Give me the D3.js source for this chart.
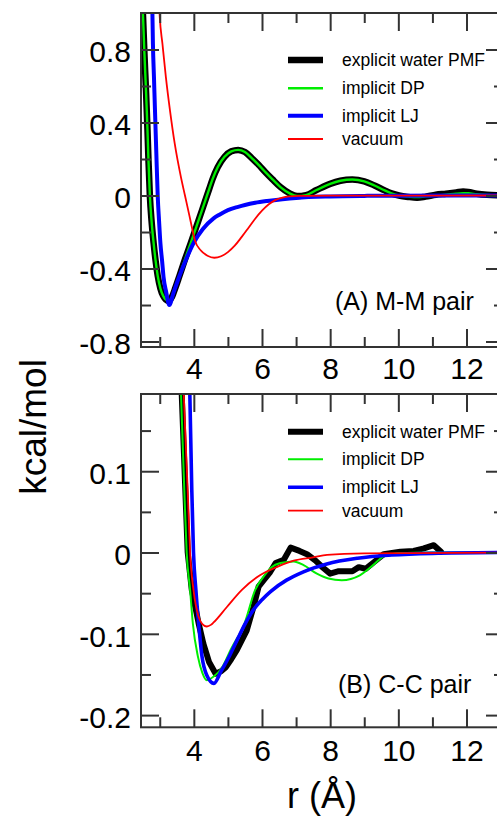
<!DOCTYPE html>
<html>
<head>
<meta charset="utf-8">
<script src="https://cdn.jsdelivr.net/npm/d3@7"></script>
<style>
  body { margin: 0; background: #fff; }
  svg { display: block; }
  text { font-family: "Liberation Sans", Arial, sans-serif; fill: #000; }
</style>
</head>
<body>
<svg id="chart" width="497" height="816"></svg>
<script>
// Pair potentials of mean force, r in Å, energies in kcal/mol
const seriesNames = ["explicit water PMF", "implicit DP", "implicit LJ", "vacuum"];
const rMajorTicks = [4, 6, 8, 10, 12];
const rMinorTicks = [3, 5, 7, 9, 11];
const mmMajorTicks = [0.8, 0.4, 0, -0.4, -0.8];
const mmMinorTicks = [0.6, 0.2, -0.2, -0.6];
const ccMajorTicks = [0.1, 0, -0.1, -0.2];
const ccMinorTicks = [0.15, 0.05, -0.05, -0.15];

// (A) M-M pair
const mmExplicit = [[2.47,1.12],[2.51,0.98],[2.55,0.78],[2.60,0.56],[2.64,0.36],[2.67,0.19],[2.71,0.0],[2.76,-0.14],[2.82,-0.26],[2.88,-0.36],[2.94,-0.44],[3.02,-0.51],[3.10,-0.55],[3.18,-0.57],[3.27,-0.578],[3.36,-0.555],[3.46,-0.505],[3.57,-0.445],[3.74,-0.35],[3.91,-0.26],[4.08,-0.168],[4.25,-0.075],[4.35,-0.02],[4.45,0.035],[4.55,0.09],[4.70,0.155],[4.90,0.212],[5.10,0.242],[5.30,0.25],[5.50,0.238],[5.70,0.205],[5.90,0.168],[6.10,0.128],[6.30,0.09],[6.55,0.045],[6.80,0.013],[7.03,-0.003],[7.29,0.002],[7.60,0.03],[8.00,0.064],[8.30,0.081],[8.65,0.088],[9.00,0.078],[9.30,0.055],[9.60,0.028],[9.80,0.012],[10.02,0.0],[10.30,-0.008],[10.55,-0.012],[10.80,-0.006],[11.10,0.004],[11.40,0.01],[11.70,0.017],[11.90,0.022],[12.05,0.02],[12.30,0.01],[12.60,0.004],[13.10,0.001]];
const mmDP = [[2.47,1.12],[2.51,0.98],[2.55,0.78],[2.60,0.56],[2.64,0.36],[2.67,0.19],[2.71,0.0],[2.76,-0.14],[2.82,-0.26],[2.88,-0.36],[2.94,-0.44],[3.02,-0.51],[3.10,-0.55],[3.18,-0.57],[3.27,-0.578],[3.36,-0.555],[3.46,-0.505],[3.57,-0.445],[3.74,-0.35],[3.91,-0.26],[4.08,-0.168],[4.25,-0.075],[4.35,-0.02],[4.45,0.035],[4.55,0.09],[4.70,0.155],[4.90,0.212],[5.10,0.242],[5.30,0.25],[5.50,0.238],[5.70,0.205],[5.90,0.168],[6.10,0.128],[6.30,0.09],[6.55,0.045],[6.80,0.013],[7.03,-0.003],[7.29,0.002],[7.60,0.03],[8.00,0.064],[8.30,0.081],[8.65,0.088],[9.00,0.078],[9.30,0.055],[9.60,0.028],[9.80,0.012],[10.02,0.0],[10.30,-0.006],[10.55,-0.009],[10.80,-0.005],[11.10,0.0],[11.40,0.004],[11.70,0.01],[11.90,0.012],[12.05,0.012],[12.30,0.007],[12.60,0.003],[13.10,0.0]];
const mmLJ = [[2.78,1.05],[2.80,0.83],[2.83,0.65],[2.86,0.467],[2.90,0.23],[2.94,0.0],[2.98,-0.14],[3.02,-0.263],[3.07,-0.36],[3.11,-0.445],[3.19,-0.53],[3.28,-0.60],[3.40,-0.535],[3.57,-0.445],[3.75,-0.36],[4.01,-0.255],[4.26,-0.185],[4.58,-0.125],[4.75,-0.105],[5.00,-0.08],[5.30,-0.062],[5.50,-0.052],[5.80,-0.04],[6.15,-0.03],[6.60,-0.02],[7.00,-0.013],[8.00,-0.005],[9.00,-0.002],[10.00,-0.001],[13.10,0.0]];
const mmVacuum = [[2.97,1.1],[3.00,0.98],[3.08,0.83],[3.18,0.649],[3.30,0.467],[3.44,0.284],[3.62,0.102],[3.74,0.0],[3.87,-0.11],[3.95,-0.18],[4.03,-0.245],[4.20,-0.30],[4.40,-0.33],[4.60,-0.341],[4.80,-0.333],[5.00,-0.31],[5.20,-0.275],[5.40,-0.228],[5.60,-0.178],[5.80,-0.127],[6.00,-0.083],[6.20,-0.048],[6.40,-0.024],[6.60,-0.011],[6.80,-0.005],[7.10,-0.002],[8.00,-0.001],[13.10,0.0]];

// (B) C-C pair
const ccExplicit = [[3.60,0.245],[3.64,0.20],[3.75,0.077],[3.82,0.0],[3.94,-0.046],[4.14,-0.087],[4.28,-0.112],[4.45,-0.135],[4.64,-0.149],[4.80,-0.146],[4.94,-0.141],[5.10,-0.131],[5.26,-0.12],[5.55,-0.096],[5.75,-0.067],[5.90,-0.042],[6.05,-0.034],[6.24,-0.024],[6.40,-0.013],[6.64,-0.009],[6.84,0.006],[7.10,0.002],[7.32,-0.002],[7.57,-0.010],[7.80,-0.019],[8.00,-0.026],[8.25,-0.023],[8.65,-0.023],[8.84,-0.018],[9.04,-0.020],[9.28,-0.012],[9.57,-0.002],[10.06,0.001],[10.45,0.002],[10.75,0.005],[11.04,0.009],[11.25,0.001]];
const ccDP = [[3.58,0.245],[3.62,0.20],[3.72,0.077],[3.79,0.0],[3.89,-0.046],[3.97,-0.087],[4.12,-0.128],[4.25,-0.148],[4.38,-0.157],[4.60,-0.152],[4.82,-0.142],[5.10,-0.118],[5.49,-0.087],[5.80,-0.046],[6.04,-0.030],[6.28,-0.018],[6.54,-0.013],[6.93,-0.011],[7.22,-0.0156],[7.61,-0.026],[7.95,-0.032],[8.34,-0.034],[8.87,-0.028],[9.26,-0.0155],[9.56,-0.005],[10.00,-0.001],[11.00,0.0],[13.10,0.0]];
const ccLJ = [[3.85,0.25],[3.88,0.20],[3.94,0.077],[3.99,0.0],[4.06,-0.046],[4.14,-0.087],[4.24,-0.128],[4.38,-0.151],[4.59,-0.161],[4.80,-0.146],[5.06,-0.126],[5.30,-0.105],[5.50,-0.088],[5.74,-0.071],[6.00,-0.058],[6.25,-0.048],[6.72,-0.034],[7.20,-0.024],[7.90,-0.014],[8.80,-0.007],[9.80,-0.003],[11.00,-0.001],[13.10,0.0]];
const ccVacuum = [[3.66,0.25],[3.70,0.20],[3.82,0.077],[3.89,0.0],[3.99,-0.046],[4.14,-0.079],[4.25,-0.088],[4.38,-0.091],[4.50,-0.089],[4.58,-0.086],[4.97,-0.067],[5.41,-0.046],[5.94,-0.028],[6.48,-0.017],[6.93,-0.010],[7.50,-0.006],[7.91,-0.003],[9.00,-0.001],[13.10,0.0]];

const svg = d3.select("#chart");
const frameLeft = 141, frameRight = 504;
const x = d3.scaleLinear().domain([2.45, 13.1]).range([frameLeft, frameRight]);

const colors = ["#000000", "#00ee00", "#0000ff", "#ff0000"];

const panels = [
  {
    id: "mm", top: 13, bottom: 347, domain: [-0.83, 1.0],
    major: mmMajorTicks, minor: mmMinorTicks,
    series: [mmExplicit, mmDP, mmLJ, mmVacuum],
    curves: [d3.curveMonotoneX, d3.curveMonotoneX, d3.curveMonotoneX, d3.curveMonotoneX],
    legendRows: [60, 88.3, 115.7, 139],
    widths: [6.5, 2.4, 4, 1.8],
    label: "(A) M-M pair", labelX: 335, labelY: 310,
    rLabelY: 379
  },
  {
    id: "cc", top: 394, bottom: 727.3, domain: [-0.215, 0.195],
    major: ccMajorTicks, minor: ccMinorTicks,
    series: [ccExplicit, ccDP, ccLJ, ccVacuum],
    curves: [d3.curveLinear, d3.curveMonotoneX, d3.curveMonotoneX, d3.curveMonotoneX],
    legendRows: [431.7, 459.3, 487.3, 510.7],
    widths: [6, 2, 3.6, 1.8],
    label: "(B) C-C pair", labelX: 338, labelY: 693,
    rLabelY: 761.5
  }
];

const fmt = d => String(d);

panels.forEach(p => {
  const y = d3.scaleLinear().domain(p.domain).range([p.bottom, p.top]);
  const g = svg.append("g");

  // clip region for the curves
  const clipId = "clip-" + p.id;
  svg.append("clipPath").attr("id", clipId)
    .append("rect").attr("x", frameLeft).attr("y", p.top)
    .attr("width", frameRight - frameLeft).attr("height", p.bottom - p.top);

  const lines = g.append("g").attr("clip-path", `url(#${clipId})`);
  p.series.forEach((data, i) => {
    const line = d3.line().x(d => x(d[0])).y(d => y(d[1])).curve(p.curves[i]);
    lines.append("path").datum(data)
      .attr("fill", "none")
      .attr("stroke", colors[i])
      .attr("stroke-width", p.widths[i])
      .attr("stroke-linejoin", "round")
      .attr("stroke-linecap", "round")
      .attr("d", line);
  });

  // axes: ticks point inward on all four sides
  const axisStyle = sel => {
    sel.select(".domain").remove();
    sel.selectAll(".tick line").attr("stroke", "#333").attr("stroke-width", 2);
    sel.selectAll("text").style("font-size", "30px").attr("fill", "#000");
  };

  g.append("g").attr("transform", `translate(0,${p.bottom})`)
    .call(d3.axisBottom(x).tickValues(rMajorTicks).tickSize(-18).tickPadding(12).tickFormat(fmt))
    .call(axisStyle)
    .call(s => s.selectAll("text").attr("dy", null).attr("y", p.rLabelY - p.bottom));
  g.append("g").attr("transform", `translate(0,${p.bottom})`)
    .call(d3.axisBottom(x).tickValues(rMinorTicks).tickSize(-10).tickFormat(""))
    .call(axisStyle);
  g.append("g").attr("transform", `translate(0,${p.top})`)
    .call(d3.axisTop(x).tickValues(rMajorTicks).tickSize(-18).tickFormat(""))
    .call(axisStyle);
  g.append("g").attr("transform", `translate(0,${p.top})`)
    .call(d3.axisTop(x).tickValues(rMinorTicks).tickSize(-10).tickFormat(""))
    .call(axisStyle);

  g.append("g").attr("transform", `translate(${frameLeft},0)`)
    .call(d3.axisLeft(y).tickValues(p.major).tickSize(-18).tickPadding(10).tickFormat(fmt))
    .call(axisStyle)
    .call(s => s.selectAll("text").attr("dy", "0.41em"));
  g.append("g").attr("transform", `translate(${frameLeft},0)`)
    .call(d3.axisLeft(y).tickValues(p.minor).tickSize(-10).tickFormat(""))
    .call(axisStyle);
  g.append("g").attr("transform", `translate(${frameRight},0)`)
    .call(d3.axisRight(y).tickValues(p.major).tickSize(-18).tickFormat(""))
    .call(axisStyle);
  g.append("g").attr("transform", `translate(${frameRight},0)`)
    .call(d3.axisRight(y).tickValues(p.minor).tickSize(-10).tickFormat(""))
    .call(axisStyle);

  // frame
  g.append("rect")
    .attr("x", frameLeft).attr("y", p.top)
    .attr("width", frameRight - frameLeft).attr("height", p.bottom - p.top)
    .attr("fill", "none").attr("stroke", "#333").attr("stroke-width", 2);

  // legend
  const legend = g.append("g");
  seriesNames.forEach((name, i) => {
    const ly = p.legendRows[i];
    legend.append("line")
      .attr("x1", 288).attr("x2", 323).attr("y1", ly).attr("y2", ly)
      .attr("stroke", colors[i]).attr("stroke-width", p.widths[i]);
    legend.append("text")
      .attr("x", 342).attr("y", ly + 6)
      .style("font-size", "17.5px")
      .text(name);
  });

  // panel label
  g.append("text")
    .attr("x", p.labelX).attr("y", p.labelY)
    .style("font-size", "25px")
    .text(p.label);
});

// shared axis titles
svg.append("text")
  .attr("x", 322).attr("y", 808)
  .attr("text-anchor", "middle")
  .style("font-size", "36px")
  .text("r (Å)");

svg.append("text")
  .attr("transform", "translate(46,427) rotate(-90)")
  .attr("text-anchor", "middle")
  .style("font-size", "37px")
  .text("kcal/mol");
</script>
</body>
</html>
